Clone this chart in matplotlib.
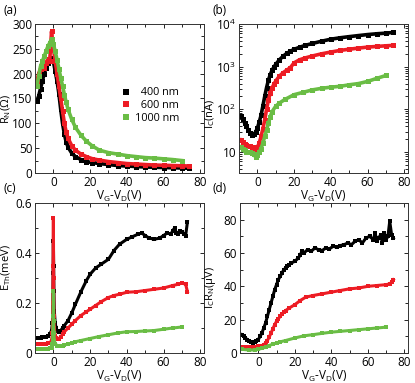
import numpy as np
import matplotlib.pyplot as plt
from matplotlib.ticker import MultipleLocator, FixedLocator, FixedFormatter

plt.rcParams['font.family'] = ['Open Sans', 'DejaVu Sans']
plt.rcParams['font.size'] = 8.5
plt.rcParams['mathtext.default'] = 'regular'

black = '#000000'
red = '#ed1c24'
green = '#6abd45'
labels = ['  400 nm', '  600 nm', '1000 nm']

# (a) normal resistance
va_400 = [-9, -8, -7, -6, -5, -4, -3, -2, -1, 0, 1, 2, 3, 4, 5, 6, 7, 8, 10, 12, 15, 18, 21, 25, 30, 35, 40, 45, 50, 55, 60, 65, 70, 74]
Ra_400 = [145, 155, 170, 185, 200, 212, 222, 230, 232, 225, 205, 185, 160, 128, 100, 78, 62, 52, 40, 33, 27, 23, 21, 19, 17, 15, 14, 13, 12, 11.5, 11, 10.5, 10, 9.5]
va_600 = [-9, -8, -7, -6, -5, -4, -3, -2, -1, 0, 1, 2, 3, 4, 5, 6, 7, 8, 10, 12, 15, 18, 21, 25, 30, 35, 40, 45, 50, 55, 60, 65, 70, 74]
Ra_600 = [185, 200, 210, 215, 212, 222, 230, 225, 285, 250, 225, 200, 175, 150, 125, 100, 82, 70, 55, 46, 38, 33, 29, 26, 23, 21, 19, 18, 17, 16, 15.5, 15, 14.5, 14]
va_1000 = [-9, -8, -7, -6, -5, -4, -3, -2, -1, 0, 1, 2, 3, 4, 5, 6, 7, 8, 10, 12, 15, 18, 21, 25, 30, 35, 40, 45, 50, 55, 60, 65, 70]
Ra_1000 = [175, 195, 215, 225, 235, 245, 255, 262, 270, 260, 245, 228, 210, 192, 175, 158, 142, 128, 108, 92, 76, 64, 55, 46, 41, 38, 35, 33, 31, 30, 28.5, 27, 25]

# (b) critical current
vb = [-9, -8, -7, -6, -5, -4, -3, -2, -1, 0, 1, 2, 3, 4, 5, 6, 7, 8, 9, 10, 12, 14, 16, 18, 20, 23, 26, 30, 35, 40, 45, 50, 55, 60, 65, 70, 74]
Ib_400 = [70, 60, 48, 40, 33, 28, 25, 26, 29, 36, 50, 72, 120, 200, 320, 480, 650, 820, 980, 1130, 1450, 1750, 2050, 2300, 2550, 2850, 3150, 3500, 3950, 4400, 4750, 5050, 5350, 5650, 5900, 6100, 6350]
Ib_600 = [19, 17, 15, 14.5, 14, 13.5, 13, 12.5, 11, 13, 16, 23, 35, 56, 100, 165, 240, 316, 390, 460, 600, 720, 830, 950, 1230, 1450, 1600, 1780, 2000, 2200, 2400, 2560, 2720, 2870, 2980, 3080, 3150]
vb_g = [-9, -8, -7, -6, -5, -4, -3, -2, -1, 0, 1, 2, 3, 4, 5, 6, 7, 8, 10, 12, 15, 20, 25, 30, 35, 40, 45, 50, 55, 60, 65, 70]
Ib_1000 = [13, 12, 11, 10, 10, 10, 9.5, 9, 7.6, 8.4, 10, 12, 16, 23, 32, 47, 67, 88, 118, 140, 170, 220, 250, 285, 310, 330, 345, 375, 400, 450, 530, 620]

# (c) Thouless energy
vc_400 = [-9, -8, -7, -6, -5, -4, -3, -2, -1, -0.5, -0.3, -0.15, 0, 0.15, 0.3, 0.5, 1, 1.5, 2, 3, 4, 5, 6, 8, 10, 12, 15, 18, 20, 23, 26, 30, 33, 36, 40, 43, 46, 48, 50, 52, 55, 58, 60, 62, 64, 65, 66, 67, 68, 69, 70, 71, 72, 73]
Ec_400 = [0.06, 0.06, 0.062, 0.063, 0.063, 0.065, 0.068, 0.075, 0.09, 0.12, 0.2, 0.32, 0.45, 0.35, 0.25, 0.17, 0.12, 0.1, 0.09, 0.085, 0.09, 0.1, 0.11, 0.13, 0.16, 0.195, 0.245, 0.29, 0.315, 0.34, 0.355, 0.375, 0.41, 0.435, 0.455, 0.465, 0.475, 0.48, 0.47, 0.46, 0.455, 0.46, 0.47, 0.48, 0.475, 0.49, 0.5, 0.48, 0.475, 0.49, 0.485, 0.475, 0.47, 0.525]
vc_600 = [-9, -8, -7, -6, -5, -4, -3, -2, -1, -0.5, -0.3, -0.15, 0, 0.15, 0.3, 0.5, 1, 1.5, 2, 3, 4, 5, 6, 8, 10, 12, 15, 18, 20, 23, 26, 30, 33, 36, 40, 45, 50, 55, 60, 65, 68, 70, 72, 73]
Ec_600 = [0.035, 0.035, 0.036, 0.036, 0.037, 0.038, 0.039, 0.04, 0.05, 0.08, 0.2, 0.35, 0.54, 0.3, 0.15, 0.1, 0.07, 0.06, 0.055, 0.058, 0.065, 0.075, 0.085, 0.1, 0.115, 0.13, 0.15, 0.165, 0.175, 0.19, 0.205, 0.222, 0.23, 0.235, 0.243, 0.245, 0.25, 0.255, 0.26, 0.27, 0.275, 0.28, 0.275, 0.245]
vc_1000 = [-9, -8, -7, -6, -5, -4, -3, -2, -1, -0.5, -0.3, -0.15, 0, 0.15, 0.3, 0.5, 1, 2, 3, 4, 5, 6, 8, 10, 12, 15, 20, 25, 30, 35, 40, 45, 50, 55, 60, 65, 70]
Ec_1000 = [0.016, 0.016, 0.016, 0.017, 0.017, 0.018, 0.018, 0.019, 0.022, 0.035, 0.08, 0.15, 0.25, 0.13, 0.08, 0.05, 0.038, 0.03, 0.027, 0.027, 0.03, 0.032, 0.036, 0.04, 0.045, 0.05, 0.058, 0.066, 0.073, 0.08, 0.085, 0.086, 0.088, 0.09, 0.095, 0.1, 0.104]

# (d) IcRn product
vd_400 = [-9, -8, -7, -6, -5, -4, -3, -2, -1, 0, 1, 2, 3, 4, 5, 6, 7, 8, 9, 10, 11, 12, 13, 14, 15, 16, 17, 18, 20, 22, 23, 24, 25, 27, 29, 31, 33, 35, 37, 39, 41, 43, 45, 47, 49, 51, 53, 55, 57, 59, 61, 63, 64, 65, 66, 67, 68, 69, 70, 71, 72, 73, 74]
ICR_400 = [11, 10, 9, 8, 7, 6.5, 6, 6.5, 7, 8, 10, 12, 15, 18, 22, 26, 30, 34, 38, 41, 44, 46, 48, 50, 51, 52, 53, 54, 55, 57, 59, 61, 60, 62, 61, 63, 62, 61.5, 63, 62.5, 64, 63.5, 64.5, 65, 66, 65, 67, 68, 66, 69, 70, 68, 72, 67, 69, 71, 66, 72, 68, 70, 79, 71, 69]
vd_600 = [-9, -7, -5, -3, -1, 0, 1, 2, 3, 4, 5, 6, 7, 8, 9, 10, 11, 12, 13, 14, 15, 17, 20, 23, 26, 30, 35, 40, 45, 50, 55, 60, 65, 70, 72, 73, 74]
ICR_600 = [3.5, 3.5, 3.5, 3.5, 3.8, 4, 4.2, 4.5, 5, 6, 7.5, 9.5, 12, 14.5, 17, 19, 20.5, 22, 23.5, 24.5, 25.5, 27, 29, 31.5, 33.5, 34.5, 35.5, 36.5, 37.5, 38.5, 39, 40, 40.5, 41, 41.5, 42.5, 44]
vd_1000 = [-9, -5, -2, 0, 2, 4, 6, 8, 10, 12, 15, 20, 25, 30, 35, 40, 45, 50, 55, 60, 65, 70]
ICR_1000 = [2.2, 1.8, 1.8, 2.2, 2.8, 3.5, 4.5, 5.3, 6, 6.7, 7.5, 9, 10.3, 11, 11.8, 12.5, 13, 13.5, 14, 14.5, 15, 15.5]

fig = plt.figure(figsize=(4.15, 3.83), dpi=100)
W, H = 415.0, 383.0
def add(l, t, r, b):
    return fig.add_axes([l / W, 1 - b / H, (r - l) / W, (b - t) / H])

ax_a = add(35, 24, 204, 173)
ax_b = add(239, 24, 408, 173)
ax_c = add(35, 203, 204, 353)
ax_d = add(240, 203, 408, 353)

sty = dict(marker='s', ms=3.6, mew=0, lw=2.6)
sty2 = dict(marker='s', ms=3.4, mew=0, lw=2.2)

ax_a.plot(va_400, Ra_400, color=black, label=labels[0], **sty)
ax_a.plot(va_600, Ra_600, color=red, label=labels[1], **sty)
ax_a.plot(va_1000, Ra_1000, color=green, label=labels[2], **sty)

ax_b.plot(vb, Ib_400, color=black, **sty)
ax_b.plot(vb, Ib_600, color=red, **sty)
ax_b.plot(vb_g, Ib_1000, color=green, **sty)

ax_c.plot(vc_400, Ec_400, color=black, **sty2)
ax_c.plot(vc_600, Ec_600, color=red, **sty2)
ax_c.plot(vc_1000, Ec_1000, color=green, **sty2)

ax_d.plot(vd_400, ICR_400, color=black, **sty2)
ax_d.plot(vd_600, ICR_600, color=red, **sty2)
ax_d.plot(vd_1000, ICR_1000, color=green, **sty2)

ax_a.set_ylim(0, 300)
ax_a.yaxis.set_major_locator(MultipleLocator(50))
ax_a.yaxis.set_minor_locator(MultipleLocator(25))
ax_a.set_ylabel(r'R$_N$($\Omega$)', fontsize=8)
ax_a.yaxis.set_label_coords(-0.13, 0.43)

ax_b.set_yscale('log')
ax_b.set_ylim(3.2, 1e4)
ax_b.yaxis.set_major_locator(FixedLocator([10, 100, 1000, 10000]))
ax_b.yaxis.set_major_formatter(FixedFormatter(['10', r'10$^2$', r'10$^3$', r'10$^4$']))
ax_b.set_ylabel(r'I$_C$(nA)', fontsize=8)
ax_b.yaxis.set_label_coords(-0.128, 0.40)

ax_c.set_ylim(0, 0.6)
ax_c.yaxis.set_major_locator(MultipleLocator(0.2))
ax_c.yaxis.set_minor_locator(MultipleLocator(0.1))
ax_c.yaxis.set_major_formatter(plt.FuncFormatter(lambda v, p: '0' if abs(v) < 1e-9 else '%.1f' % v))
ax_c.set_ylabel(r'E$_{Th}$(meV)', fontsize=8)
ax_c.yaxis.set_label_coords(-0.128, 0.57)

ax_d.set_ylim(0, 90)
ax_d.yaxis.set_major_locator(MultipleLocator(20))
ax_d.yaxis.set_minor_locator(MultipleLocator(10))
ax_d.set_ylabel(r'I$_C$R$_N$($\mu$V)', fontsize=8)
ax_d.yaxis.set_label_coords(-0.131, 0.44)

for ax in [ax_a, ax_b, ax_c, ax_d]:
    ax.set_xlim(-10, 82)
    ax.xaxis.set_major_locator(MultipleLocator(20))
    ax.xaxis.set_minor_locator(MultipleLocator(10))
    ax.set_xlabel(r'V$_G$-V$_D$(V)', labelpad=0, fontsize=8.5)
    ax.tick_params(which='both', direction='in', top=True, right=True, width=0.6, pad=2)
    ax.tick_params(which='major', length=3)
    ax.tick_params(which='minor', length=2)
    for s in ax.spines.values():
        s.set_linewidth(0.7)
        s.set_color('#333333')

leg = ax_a.legend(loc='upper left', bbox_to_anchor=(0.52, 0.575), frameon=False,
                  handlelength=0.6, handletextpad=0.5, labelspacing=0.15,
                  borderpad=0, borderaxespad=0, fontsize=7.8, markerscale=1.2)
for h in leg.legend_handles:
    h.set_linestyle('none')

fig.text(3 / W, 1 - 10 / H, '(a)', va='center', ha='left', fontsize=8.5)
fig.text(212 / W, 1 - 10 / H, '(b)', va='center', ha='left', fontsize=8.5)
fig.text(3 / W, 1 - 188 / H, '(c)', va='center', ha='left', fontsize=8.5)
fig.text(212 / W, 1 - 188 / H, '(d)', va='center', ha='left', fontsize=8.5)

fig.savefig('out.png', dpi=100)
